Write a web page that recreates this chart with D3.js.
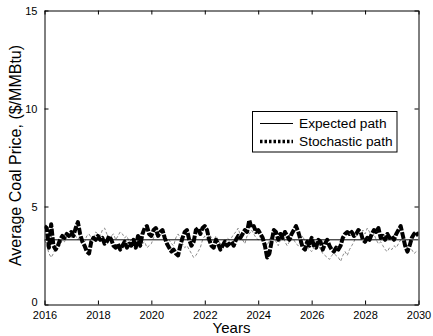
<!DOCTYPE html>
<html><head><meta charset="utf-8">
<script src="https://cdn.jsdelivr.net/npm/d3@7"></script>
<style>body{margin:0;background:#fff;}svg{display:block;font-family:Arial,"Liberation Sans",sans-serif;}</style>
</head><body><div id="chart"></div>
<script>
const startYear = 2016;
const xTicks = [2016,2018,2020,2022,2024,2026,2028,2030];
const yTicks = [0,5,10,15];
const expectedYears = [2016, 2030];
const expectedValues = [3.3, 3.3];
// monthly stochastic path (2016-01 .. 2030-01)
const stochasticValues = [
 4.0,3.9,2.9,4.1,3.0,2.8,3.0,3.3,3.5,3.4,3.6,3.5,
 3.7,3.5,3.9,4.2,3.6,3.2,3.0,2.7,2.6,3.2,3.4,3.3,
 3.5,3.3,3.4,3.1,3.2,3.5,3.3,3.0,2.9,3.1,2.8,3.0,
 3.2,2.9,3.1,3.0,3.3,2.9,3.5,3.0,3.6,3.9,4.0,3.6,
 3.5,3.8,3.9,3.5,3.7,3.8,3.4,3.1,2.9,2.7,2.8,2.6,
 2.5,3.0,3.4,3.7,3.8,3.3,3.0,3.2,3.8,3.9,3.6,3.9,
 4.0,3.8,3.3,3.0,2.9,3.3,3.1,2.8,3.0,3.2,3.0,3.1,
 3.2,3.0,3.3,3.5,3.4,3.6,3.8,3.7,4.3,3.9,4.0,3.7,
 3.8,3.6,3.4,3.0,2.4,2.6,3.2,3.8,3.7,3.3,3.6,3.4,
 3.7,3.5,3.3,3.6,3.8,4.0,3.7,3.3,2.9,2.8,3.2,3.0,
 3.4,3.0,2.9,3.3,3.2,2.8,3.1,3.3,3.0,2.8,2.7,2.9,
 2.8,3.0,3.4,3.6,3.7,3.6,3.7,3.5,3.6,3.8,3.7,3.3,
 3.2,3.4,3.3,3.6,3.8,3.7,3.9,3.4,3.5,3.3,3.6,3.4,
 3.5,3.3,3.6,3.8,4.0,3.5,3.0,2.7,3.0,3.4,3.6,3.7,
 3.5];
// second (thin, grey) stochastic realisation
const stochasticValues2 = [
 3.3,3.0,2.6,2.4,2.6,2.9,3.1,3.0,3.3,3.2,3.5,3.6,
 3.4,3.7,3.5,3.3,3.6,3.4,3.2,3.5,3.6,3.4,3.3,3.7,
 3.6,3.5,3.8,3.9,3.6,3.4,3.5,3.6,3.3,3.5,3.7,3.6,
 3.4,3.5,3.2,3.3,3.1,3.3,3.0,2.9,3.1,3.2,2.9,3.0,
 3.1,3.4,3.6,3.9,3.7,3.5,3.6,3.2,3.3,3.1,3.0,3.4,
 3.6,3.4,3.1,2.9,3.0,2.8,2.6,2.4,2.5,2.7,2.9,3.3,
 3.5,3.3,3.6,3.4,3.2,3.5,3.3,3.1,3.0,3.2,3.4,3.3,
 3.4,3.6,3.7,3.9,3.5,3.3,3.1,3.5,3.6,3.8,3.6,3.4,
 3.3,3.5,3.4,3.2,3.0,3.3,3.5,3.4,3.2,3.0,3.3,3.5,
 3.2,3.0,3.2,3.4,3.3,3.1,3.0,3.3,3.5,3.2,2.9,2.8,
 2.7,2.9,3.1,3.0,2.8,2.6,2.5,2.4,2.3,2.5,2.6,2.5,
 2.4,2.2,2.5,2.7,2.5,2.8,3.0,3.2,3.5,3.7,3.5,3.8,
 3.6,3.9,3.7,3.4,3.6,3.3,3.1,3.2,3.0,2.8,2.7,2.9,
 2.8,3.0,2.9,3.1,3.3,3.2,3.0,2.9,2.7,2.8,2.6,2.7,
 2.7];
const legendLabels = ["Expected path","Stochastic path"];

const W = 433, H = 336;
const m = {left:44.5, right:418.5, top:10.5, bottom:304.5};
const svg = d3.select("#chart").append("svg").attr("width",W).attr("height",H);
const x = d3.scaleLinear().domain([2016,2030]).range([m.left,m.right]);
const y = d3.scaleLinear().domain([0,15]).range([m.bottom,m.top]);

svg.append("clipPath").attr("id","clip").append("rect")
  .attr("x",m.left).attr("y",m.top).attr("width",m.right-m.left).attr("height",m.bottom-m.top);

const line = d3.line().x(d=>x(d[0])).y(d=>y(d[1]));
const g = svg.append("g").attr("clip-path","url(#clip)");
const s2 = stochasticValues2.map((v,i)=>[startYear+i/12,v]);
const s1 = stochasticValues.map((v,i)=>[startYear+i/12,v]);
const ex = expectedYears.map((t,i)=>[t,expectedValues[i]]);
g.append("path").datum(s2).attr("d",line).attr("fill","none").attr("stroke","#8a8a8a").attr("stroke-width",1).attr("stroke-dasharray","3,2");
g.append("path").datum(ex).attr("d",line).attr("fill","none").attr("stroke","#000").attr("stroke-width",1);
g.append("path").datum(s1).attr("d",line).attr("fill","none").attr("stroke","#000").attr("stroke-width",4).attr("stroke-dasharray","7,1.5").attr("stroke-linejoin","round");

// axes (MATLAB-like box with inward ticks)
const tl = 4;
const xb = svg.append("g").attr("transform",`translate(0,${m.bottom})`)
  .call(d3.axisBottom(x).tickValues(xTicks).tickFormat(d3.format("d")).tickSizeInner(-tl).tickSizeOuter(0).tickPadding(7));
const xt = svg.append("g").attr("transform",`translate(0,${m.top})`)
  .call(d3.axisTop(x).tickValues(xTicks).tickFormat("").tickSizeInner(-tl).tickSizeOuter(0));
const yl = svg.append("g").attr("transform",`translate(${m.left},0)`)
  .call(d3.axisLeft(y).tickValues(yTicks).tickSizeInner(-tl).tickSizeOuter(0).tickPadding(7));
const yr = svg.append("g").attr("transform",`translate(${m.right},0)`)
  .call(d3.axisRight(y).tickValues(yTicks).tickFormat("").tickSizeInner(-tl).tickSizeOuter(0));
[xb,xt,yl,yr].forEach(a=>{a.select(".domain").attr("stroke","#000");a.selectAll("line").attr("stroke","#000");
  a.selectAll("text").attr("fill","#000").style("font-size","11px").style("font-family","Arial, 'Liberation Sans', sans-serif");});
yl.selectAll("text").attr("dy","0.32em");
yl.selectAll(".tick").filter(d=>d===0).select("text").attr("dy","0.1em");

svg.append("text").attr("x",(m.left+m.right)/2).attr("y",333).attr("text-anchor","middle")
  .style("font-size","15px").text("Years");
svg.append("text").attr("transform",`translate(21,155.5) rotate(-90)`).attr("text-anchor","middle")
  .style("font-size","16px").text("Average Coal Price, ($/MMBtu)");

// legend
const lg = svg.append("g");
lg.append("rect").attr("x",252.5).attr("y",111.5).attr("width",144.5).attr("height",40.5)
  .attr("fill","#fff").attr("stroke","#000").attr("stroke-width",1);
lg.append("line").attr("x1",260).attr("x2",293).attr("y1",123.5).attr("y2",123.5).attr("stroke","#000").attr("stroke-width",1);
lg.append("line").attr("x1",260).attr("x2",293).attr("y1",141.5).attr("y2",141.5).attr("stroke","#000").attr("stroke-width",3.5).attr("stroke-dasharray","2.5,2");
legendLabels.forEach((t,i)=>lg.append("text").attr("x",299).attr("y",128+i*18).style("font-size","13.7px").attr("fill","#000").text(t));
</script></body></html>
